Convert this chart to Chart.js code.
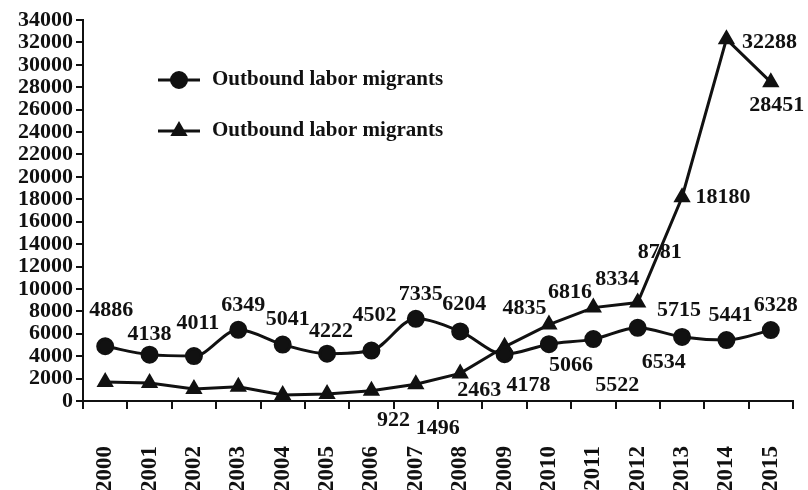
<!DOCTYPE html>
<html>
<head>
<meta charset="utf-8">
<script src="https://cdn.jsdelivr.net/npm/chart.js@4/dist/chart.umd.min.js"></script>
<style>
  html, body { margin: 0; padding: 0; background: #fff; }
  #wrap { width: 808px; height: 490px; position: relative; }
</style>
</head>
<body>
<div id="wrap"><canvas id="c" width="808" height="490"></canvas></div>
<script>
const years = ['2000','2001','2002','2003','2004','2005','2006','2007','2008','2009','2010','2011','2012','2013','2014','2015'];
const seriesCircle = [4886, 4138, 4011, 6349, 5041, 4222, 4502, 7335, 6204, 4178, 5066, 5522, 6534, 5715, 5441, 6328];
const seriesTriangle = [1700, 1600, 1070, 1280, 540, 620, 922, 1496, 2463, 4835, 6816, 8334, 8781, 18180, 32288, 28451];
const seriesNames = ['Outbound labor migrants', 'Outbound labor migrants'];
const yTicksMax = 34000;
const yTicksStep = 2000;

const FONT = '"Liberation Serif", "Times New Roman", serif';

// label offsets (px) relative to each point; null = no label
const labelOffsets = [
  [[6,-36],[0,-20],[4,-33],[5,-25],[5,-25],[4,-22],[3,-35],[5,-24],[4,-27],[24,31],[22,21],[24,46],[26,35],[-3,-27],[4,-25],[5,-25]],
  [null,null,null,null,null,null,[22,30],[22,44],[19,17],[20,-39],[21,-32],[24,-28],[22,-50],[41,0],[43,3],[6,23]]
];

const dataLabelPlugin = {
  id: 'dataLabels',
  afterDatasetsDraw(chart) {
    const ctx = chart.ctx;
    ctx.save();
    ctx.font = 'bold 22px ' + FONT;
    ctx.fillStyle = '#111';
    ctx.textAlign = 'center';
    ctx.textBaseline = 'middle';
    chart.data.datasets.forEach((ds, di) => {
      const meta = chart.getDatasetMeta(di);
      meta.data.forEach((pt, i) => {
        const off = labelOffsets[di][i];
        if (!off) return;
        ctx.fillText(String(ds.data[i]), pt.x + off[0], pt.y + off[1]);
      });
    });
    ctx.restore();
  }
};

const customLegend = {
  id: 'customLegend',
  afterDraw(chart) {
    const ctx = chart.ctx;
    const items = [
      { y: 80, style: 'circle', r: 7.5 },
      { y: 131, style: 'triangle', r: 7 }
    ];
    ctx.save();
    items.forEach((it, i) => {
      ctx.strokeStyle = '#111';
      ctx.fillStyle = '#111';
      ctx.lineWidth = 3;
      ctx.beginPath();
      ctx.moveTo(158, it.y);
      ctx.lineTo(200, it.y);
      ctx.stroke();
      Chart.helpers.drawPoint(ctx, { pointStyle: it.style, radius: it.r, borderWidth: 1 }, 179, it.y);
      ctx.font = 'bold 21px ' + FONT;
      ctx.textAlign = 'left';
      ctx.textBaseline = 'middle';
      ctx.fillText(chart.data.datasets[i].label, 212, it.y);
    });
    ctx.restore();
  }
};

new Chart(document.getElementById('c'), {
  type: 'line',
  data: {
    labels: years,
    datasets: [
      {
        label: seriesNames[0],
        data: seriesCircle,
        borderColor: '#111',
        backgroundColor: '#111',
        borderWidth: 3,
        pointStyle: 'circle',
        pointRadius: 7.5,
        pointBackgroundColor: '#111',
        pointBorderColor: '#111',
        cubicInterpolationMode: 'monotone'
      },
      {
        label: seriesNames[1],
        data: seriesTriangle,
        borderColor: '#111',
        backgroundColor: '#111',
        borderWidth: 3,
        pointStyle: 'triangle',
        pointRadius: 7,
        pointBackgroundColor: '#111',
        pointBorderColor: '#111',
        tension: 0
      }
    ]
  },
  options: {
    responsive: false,
    animation: false,
    devicePixelRatio: 1,
    layout: { padding: { left: 0, top: 20, right: 15, bottom: 0 } },
    plugins: {
      legend: { display: false },
      tooltip: { enabled: false }
    },
    scales: {
      x: {
        type: 'category',
        offset: true,
        grid: { offset: true, drawOnChartArea: false, tickLength: 8, color: '#111', lineWidth: 2 },
        border: { color: '#111', width: 2 },
        ticks: {
          color: '#111',
          font: { family: FONT, size: 23, weight: 'bold' },
          minRotation: 90,
          maxRotation: 90,
          padding: 37,
          autoSkip: false
        },
        afterFit(scale) { scale.height = 89; scale.paddingLeft = 0; scale.paddingRight = 0; }
      },
      y: {
        min: 0,
        max: yTicksMax,
        grid: { drawOnChartArea: false, tickLength: 7, color: '#111', lineWidth: 2 },
        border: { color: '#111', width: 2 },
        ticks: {
          stepSize: yTicksStep,
          autoSkip: false,
          color: '#111',
          font: { family: FONT, size: 22, weight: 'bold', lineHeight: 1 },
          padding: 3,
          callback: (v) => String(v)
        },
        afterFit(scale) { scale.width = 83; scale.paddingTop = 0; scale.paddingBottom = 0; }
      }
    }
  },
  plugins: [dataLabelPlugin, customLegend]
});
</script>
</body>
</html>
